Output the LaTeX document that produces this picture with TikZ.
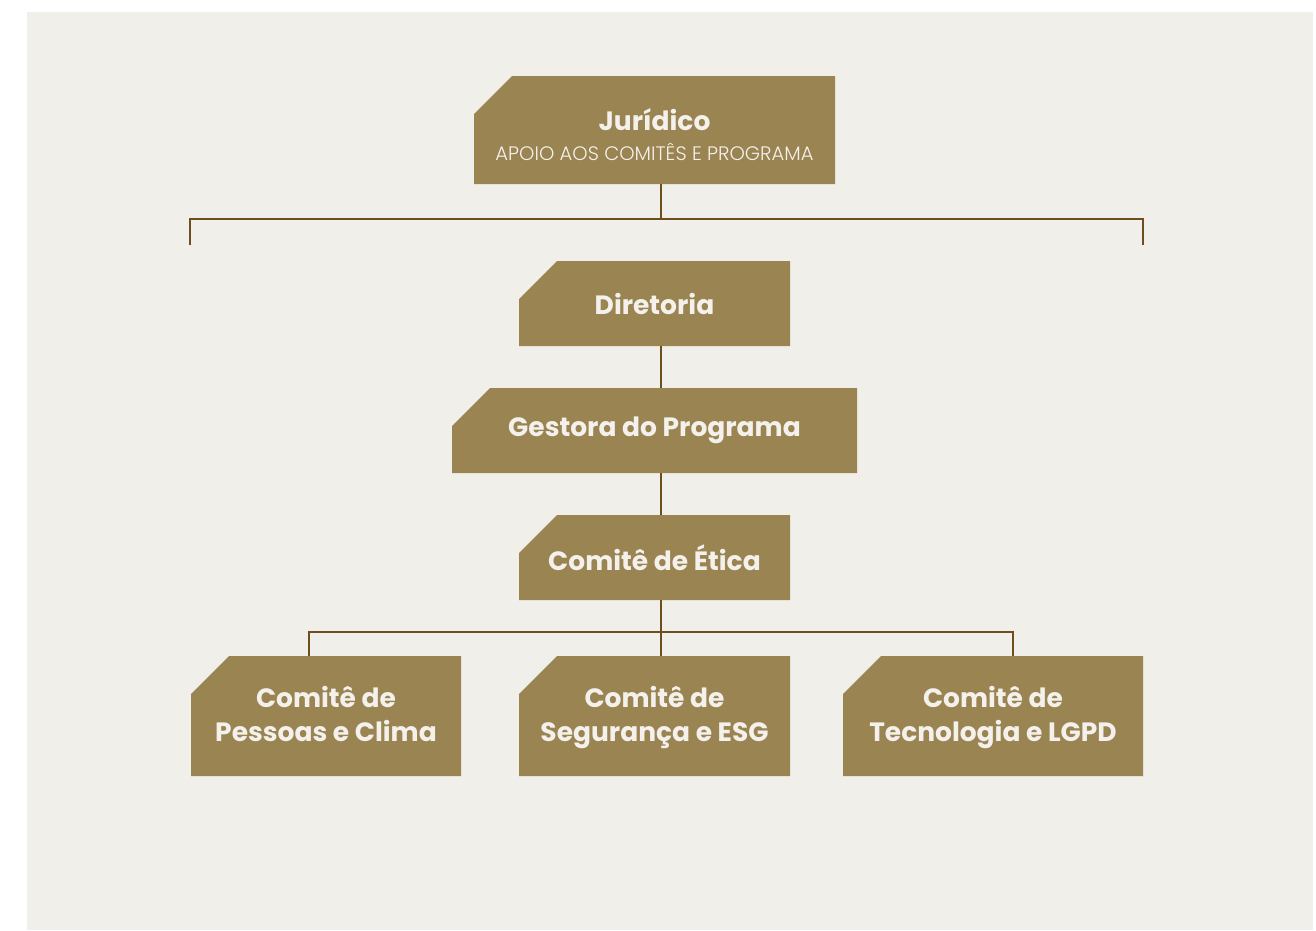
\documentclass[tikz,border=0pt]{standalone}
\usepackage{fontspec}
\setmainfont{Poppins}
\newfontfamily\lightfont{Poppins Light}
\usetikzlibrary{backgrounds}
\definecolor{bgc}{HTML}{F1EFEA}
\definecolor{boxc}{HTML}{9A8452}
\definecolor{txtc}{HTML}{F4F1EC}
\definecolor{linec}{HTML}{6E4E1F}
\newcommand{\eqln}{\vphantom{gÊ}}
\tikzset{
  orgbox/.style={rectangle, draw=none, inner sep=0pt, outer sep=0pt, text=txtc, align=center,
    font=\fontsize{26.5}{34}\selectfont\bfseries},
  boxfill/.style={fill=boxc},
  conn/.style={draw=linec, line width=2.4pt}
}
\begin{document}
\begin{tikzpicture}[x=1pt,y=-1pt]
\useasboundingbox (0,0) rectangle (1316,930);
\node[orgbox, minimum width=361pt, minimum height=108pt] (jur) at (654.5,130) {};
\node[text=txtc, font=\fontsize{26.5}{28}\selectfont\bfseries] (jurt) at (654.5,120) {Jurídico};
\node[text=txtc, font=\lightfont\fontsize{19.5}{22}\selectfont] (jurs) at (654.5,152) {APOIO AOS COMITÊS E PROGRAMA};
\node[orgbox, minimum width=271pt, minimum height=85pt] (dir) at (654.5,303.5) {Diretoria};
\node[orgbox, minimum width=405pt, minimum height=85pt] (ges) at (654.5,430.5) {Gestora do Programa};
\node[orgbox, minimum width=271pt, minimum height=85pt] (eti) at (654.5,557.5) {Comitê de Ética};
\node[orgbox, minimum width=270pt, minimum height=120pt] (pes) at (326,716) {Comitê de\eqln\\Pessoas e Clima\eqln};
\node[orgbox, minimum width=271pt, minimum height=120pt] (seg) at (654.5,716) {Comitê de\eqln\\Segurança e ESG\eqln};
\node[orgbox, minimum width=300pt, minimum height=120pt] (tec) at (993,716) {Comitê de\eqln\\Tecnologia e LGPD\eqln};
\begin{scope}[on background layer]
\fill[bgc] (27,12) rectangle (1313,930);
\foreach \n in {jur,dir,ges,eti,pes,seg,tec}
  \fill[boxfill] (\n.south west) -- (\n.south east) -- (\n.north east)
     -- ([xshift=38pt]\n.north west) -- ([yshift=-38pt]\n.north west) -- cycle;
\end{scope}
\coordinate (cx) at (661,219);
\coordinate (hl) at (190,219);
\coordinate (hr) at (1143,219);
\coordinate (hle) at (190,245);
\coordinate (hre) at (1143,245);
\coordinate (b1) at (309,632);
\coordinate (b3) at (1013,632);
\draw[conn] (jur.south -| cx) -- (cx);
\draw[conn] (hle) -- (hl) -- (hr) -- (hre);
\draw[conn] (dir.south -| cx) -- (ges.north -| cx);
\draw[conn] (ges.south -| cx) -- (eti.north -| cx);
\draw[conn] (eti.south -| cx) -- (seg.north -| cx);
\draw[conn] (pes.north -| b1) -- (b1) -- (b3) -- (tec.north -| b3);
\end{tikzpicture}
\end{document}
